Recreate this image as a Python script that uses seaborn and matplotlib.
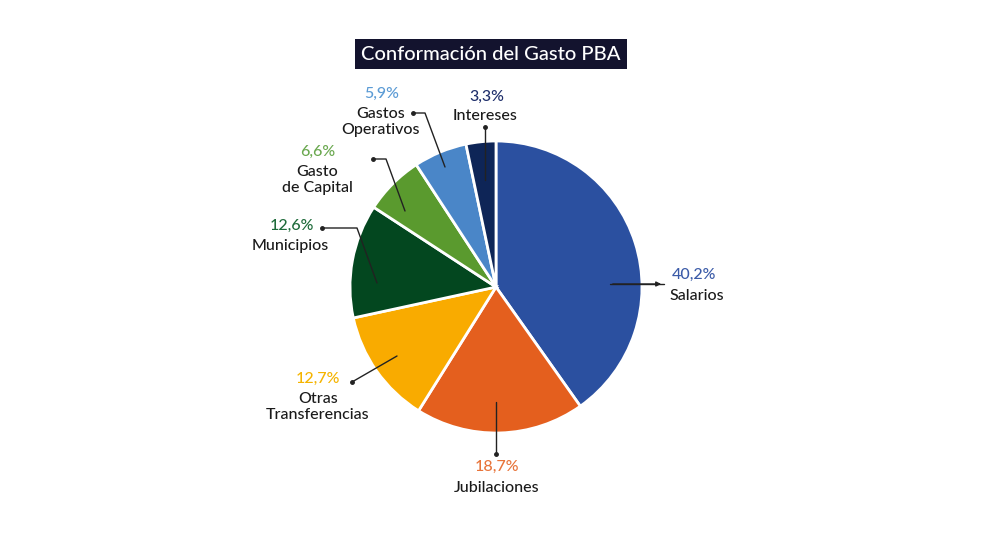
import matplotlib
matplotlib.use("Agg")
import matplotlib.pyplot as plt
import seaborn as sns

# Datos del gráfico
categorias = ["Salarios", "Jubilaciones", "Otras\nTransferencias", "Municipios",
              "Gasto\nde Capital", "Gastos\nOperativos", "Intereses"]
valores = [40.2, 18.7, 12.7, 12.6, 6.6, 5.9, 3.3]
colores = ["#2b50a0", "#e45f1e", "#f9ab00", "#03471f", "#5a9a2e", "#4a86c8", "#0e2557"]
colores_pct = ["#3b5ba8", "#e8743a", "#f5b400", "#1e6b3a", "#6aa84f", "#5b9bd5", "#1f2f6b"]
titulo = "Conformación del Gasto PBA"

sns.set_theme(style="white")
plt.rcParams["font.family"] = ["Lato", "DejaVu Sans"]

W, H = 1000, 556
fig = plt.figure(figsize=(10, 5.56), dpi=100)

# pie drawn in an axes with y up so the wedges go clockwise from the top
ax2 = fig.add_axes([0, 0, 1, 1])
ax2.set_zorder(1)
cx, cy, r = 496, 287, 146
ax2.pie(valores, colors=sns.color_palette(colores), startangle=90, counterclock=False,
        center=(cx, H - cy), radius=r, frame=True,
        wedgeprops=dict(edgecolor="white", linewidth=2))
ax2.set_xlim(0, W)
ax2.set_ylim(0, H)
ax2.axis("off")

# overlay axes in pixel coords (y down) for title, labels and leaders
ax = fig.add_axes([0, 0, 1, 1])
ax.set_zorder(2)
ax.set_xlim(0, W)
ax.set_ylim(H, 0)
ax.axis("off")

# title box
ax.text(491, 54, titulo, ha="center", va="center", color="white", fontsize=14.5,
        fontweight="medium",
        bbox=dict(boxstyle="square,pad=0.3", facecolor="#13132e", edgecolor="none"))

# label layout: (pct position, name position, leader path)
layout = [
    ((694, 275), (697, 296), [(610, 284), (664, 284)]),
    ((497, 467), (497, 488), [(496, 402), (496, 454)]),
    ((318, 379), (318, 407), [(397, 356), (352, 382)]),
    ((292, 226), (290, 246), [(377, 283), (357, 228), (322, 228)]),
    ((318, 152), (317, 180), [(405, 211), (386, 159), (373, 159)]),
    ((382, 94), (381, 122), [(445, 167), (425, 113), (413, 113)]),
    ((487, 97), (485, 116), [(485, 180), (485, 127)]),
]

for i, (cat, val) in enumerate(zip(categorias, valores)):
    ppos, npos, path = layout[i]
    pct = f"{val:.1f}%".replace(".", ",")
    ax.text(ppos[0], ppos[1], pct, ha="center", va="center", color=colores_pct[i],
            fontsize=11.5, fontweight="medium")
    ax.text(npos[0], npos[1], cat, ha="center", va="center", color="#1a1a1a",
            fontsize=11.5, fontweight="medium", linespacing=1.15)
    xs = [p[0] for p in path]
    ys = [p[1] for p in path]
    ax.plot(xs, ys, color="#222222", linewidth=1)
    if i == 0:
        ax.annotate("", xy=path[-1], xytext=path[-2],
                    arrowprops=dict(arrowstyle="-|>", color="#222222", lw=1,
                                    mutation_scale=7))
    else:
        ax.plot(xs[-1], ys[-1], "o", color="#222222", markersize=2.5)

fig.savefig("out.png", dpi=100, facecolor="white")
